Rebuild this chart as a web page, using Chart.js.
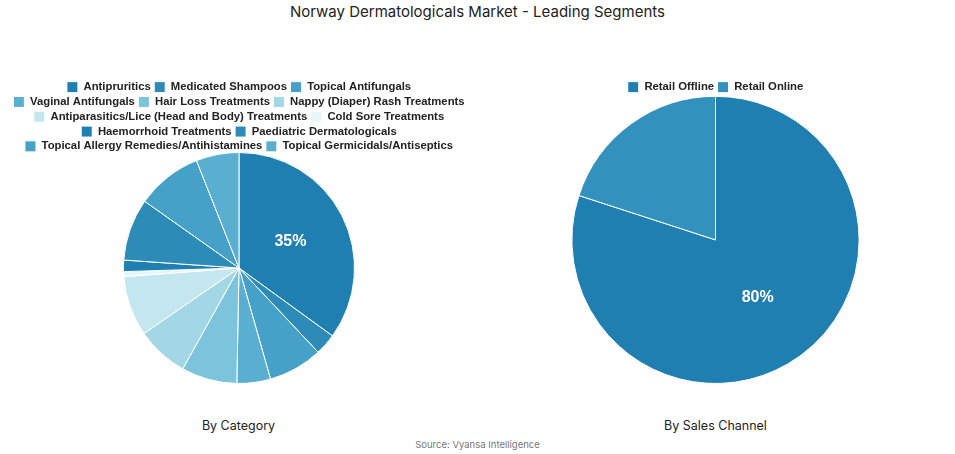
<!DOCTYPE html>
<html><head><meta charset="utf-8">
<script src="https://cdn.jsdelivr.net/npm/chart.js@4/dist/chart.umd.min.js"></script>
<style>
body{margin:0;width:955px;height:454px;background:#fff;font-family:Inter,"Open Sans",sans-serif;position:relative;overflow:hidden}
.t{position:absolute;left:0;width:955px;text-align:center;top:2px;font-size:15px;color:#222}
.s{position:absolute;font-size:12.5px;color:#222;text-align:center;width:477px}
.src{position:absolute;top:439px;width:955px;text-align:center;font-size:9.5px;color:#777}
.c{position:absolute;top:78px;width:477px;height:306px}
</style></head><body>
<div class="t">Norway Dermatologicals Market - Leading Segments</div>
<div class="c" style="left:8px;width:462px"><canvas id="a"></canvas></div>
<div class="c" style="left:477px"><canvas id="b"></canvas></div>
<div class="s" style="left:0;top:418px">By Category</div>
<div class="s" style="left:477px;top:418px">By Sales Channel</div>
<div class="src">Source: Vyansa Intelligence</div>
<script>
const categories=["Antipruritics","Medicated Shampoos","Topical Antifungals","Vaginal Antifungals","Hair Loss Treatments","Nappy (Diaper) Rash Treatments","Antiparasitics/Lice (Head and Body) Treatments","Cold Sore Treatments","Haemorrhoid Treatments","Paediatric Dermatologicals","Topical Allergy Remedies/Antihistamines","Topical Germicidals/Antiseptics"];
const categoryValues=[35,3,7.6,4.7,7.8,7.3,8.4,0.7,1.6,8.7,9.2,6.0];
const channels=["Retail Offline","Retail Online"];
const channelValues=[80,20];
const catColors=["#1f7fb0","#2d8bb8","#45a1c7","#5aafd0","#7cc3dc","#a3d7e5","#c4e7ef","#e8f6f9","#1f7fb0","#2d8bb8","#45a1c7","#5aafd0"];
const chColors=["#1f7fb0","#3391bd"];
const lbl={id:'lbl',afterDatasetsDraw(ch){const ctx=ch.ctx;const ds=ch.data.datasets[0];const tot=ds.data.reduce((a,b)=>a+b,0);
ch.getDatasetMeta(0).data.forEach((arc,i)=>{const v=ds.data[i];if(v/tot<0.3)return;const p=arc.tooltipPosition();ctx.save();ctx.fillStyle='#fff';ctx.font='bold 16px "Liberation Sans",Arial';ctx.textAlign='center';ctx.textBaseline='middle';ctx.fillText(Math.round(v/tot*100)+'%',p.x,p.y);ctx.restore();});}};
function mk(id,labels,data,colors,shrink){new Chart(document.getElementById(id),{type:'pie',data:{labels,datasets:[{data,backgroundColor:colors,borderColor:'#fff',borderWidth:1}]},
options:{responsive:true,maintainAspectRatio:false,animation:false,layout:{padding:0},
plugins:{tooltip:{enabled:false},legend:{position:'top',labels:{boxWidth:11,boxHeight:11,padding:3.5,color:'#222',font:{family:'"Liberation Sans",Arial',weight:'bold',size:11.3}}}}},
plugins:[lbl,{id:'lf',beforeInit(c){const f=c.legend.fit;c.legend.fit=function(){f.call(this);this.height-=shrink;};}}]});}
mk('a',categories,categoryValues,catColors,10);
mk('b',channels,channelValues,chColors,7);
</script></body></html>
